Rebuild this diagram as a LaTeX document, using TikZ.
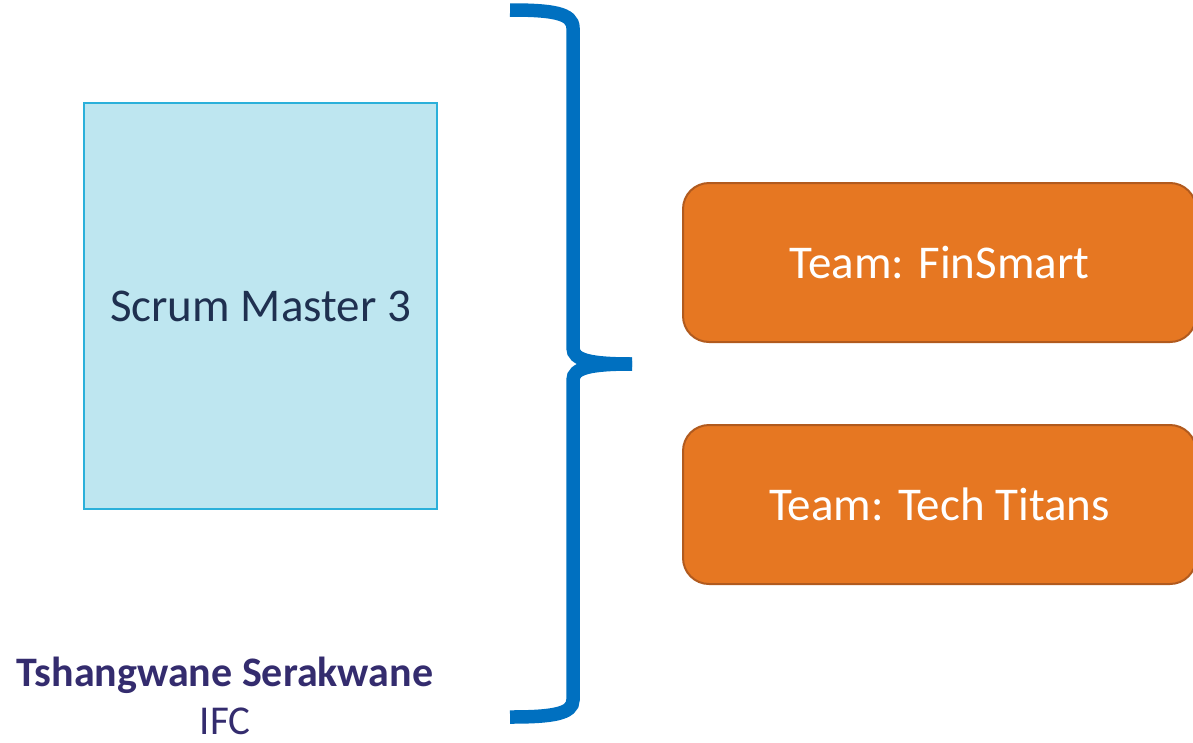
\documentclass[tikz,border=0pt]{standalone}
\usepackage{fontspec}
\setmainfont{Carlito}
\definecolor{sky}{HTML}{BEE6F0}
\definecolor{skyline}{HTML}{2BB0DA}
\definecolor{navy}{HTML}{1F3050}
\definecolor{orng}{HTML}{E67722}
\definecolor{orngline}{HTML}{B15A1E}
\definecolor{brblue}{HTML}{0070C0}
\definecolor{purp}{HTML}{342C6E}
\tikzset{
  smbox/.style={draw=skyline, fill=sky, line width=1.2pt, minimum width=353pt, minimum height=406pt, text=navy, font=\fontsize{47}{56}\selectfont, inner sep=0pt},
  teambox/.style={draw=orngline, fill=orng, line width=2pt, rounded corners=26pt, minimum width=513pt, minimum height=159pt, text=white, font=\fontsize{47}{56}\selectfont, inner sep=0pt},
  bracestyle/.style={draw=brblue, line width=13.5pt},
}
\begin{document}
\begin{tikzpicture}[x=1pt,y=-1pt]
\useasboundingbox (0,0) rectangle (1193,742);
\node[smbox] (sm) at (260.5,306) {Scrum Master 3};
\node[teambox] (t1) at (939.5,262.5) {Team: FinSmart};
\node[teambox] (t2) at (939.5,504.5) {Team: Tech Titans};
\node[text=purp, anchor=base, inner sep=0pt, font=\fontsize{42}{50}\selectfont\bfseries] (name) at (225,686) {Tshangwane Serakwane};
\node[text=purp, anchor=base, inner sep=0pt, font=\fontsize{41}{50}\selectfont] (org) at (225,734) {IFC};
\coordinate (btop) at (510,10);
\coordinate (bbot) at (510,717);
\coordinate (btip) at (632,364);
\draw[bracestyle] (btop) .. controls (552,10) and (573,13) .. (573,28) -- (573,348)
  .. controls (573,360) and (590,364) .. (btip);
\draw[bracestyle] (btip) .. controls (590,364) and (573,368) .. (573,380) -- (573,700)
  .. controls (573,714) and (552,717) .. (bbot);
\end{tikzpicture}
\end{document}
